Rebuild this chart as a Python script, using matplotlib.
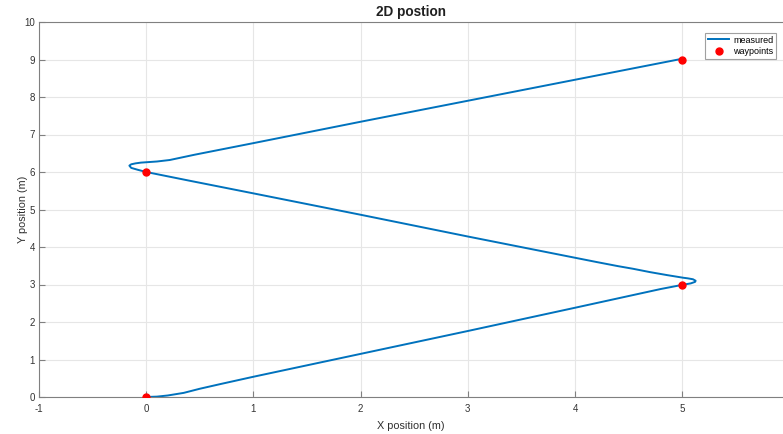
import matplotlib.pyplot as plt

plt.rcParams['font.family'] = ['Liberation Sans', 'DejaVu Sans']
plt.rcParams['axes.unicode_minus'] = False

# measured path
meas_x = [0.0, 0.1, 0.2, 0.35, 0.5, 0.7, 1.0, 2.0, 3.0, 4.0, 4.8, 5.0, 5.08, 5.12,
          5.125, 5.1, 5.05, 5.01, 4.86, 4.70, 4.54, 4.4, 4.2, 3.0, 2.0, 1.0, 0.4,
          0.0, -0.08, -0.14, -0.157, -0.14, -0.1, -0.05, 0.1, 0.22, 0.45, 1.0,
          2.0, 3.0, 4.0, 5.0]
meas_y = [0.0, 0.01, 0.04, 0.11, 0.22, 0.35, 0.54, 1.15, 1.76, 2.38, 2.88, 2.99,
          3.03, 3.07, 3.10, 3.14, 3.165, 3.18, 3.25, 3.33, 3.42, 3.49, 3.6,
          4.28, 4.86, 5.43, 5.77, 6.0, 6.06, 6.11, 6.17, 6.205, 6.23, 6.25,
          6.28, 6.32, 6.46, 6.77, 7.34, 7.90, 8.46, 9.02]

wp_x = [0, 5, 0, 5]
wp_y = [0, 3, 6, 9]

fig = plt.figure(figsize=(7.83, 4.34), dpi=100)
ax = fig.add_axes([39 / 783, 37 / 434, 744 / 783, 375 / 434])

ax.plot(meas_x, meas_y, color='#0072BD', lw=1.4, label='measured')
ax.plot(wp_x, wp_y, 'o', color='red', ms=5, label='waypoints', zorder=3)

ax.set_xlim(-1, 5.94)
ax.set_ylim(0, 10)
ax.set_xticks(range(-1, 6))
ax.set_yticks(range(0, 11))
ax.grid(True, color='#e6e6e6', lw=0.8)
ax.set_axisbelow(True)

for s in ['left', 'bottom', 'top']:
    ax.spines[s].set_color('#808080')
ax.spines['right'].set_visible(False)
ax.tick_params(direction='in', length=4, color='#808080', labelcolor='#333333',
               labelsize=7)
ax.tick_params(axis='x', pad=5)
ax.tick_params(axis='y', pad=3)

ax.set_title('2D postion', fontsize=9.8, fontweight='bold', color='#202020', pad=4)
ax.set_xlabel('X position (m)', fontsize=7.8, color='#303030', labelpad=5)
ax.set_ylabel('Y position (m)', fontsize=7.8, color='#303030')
ax.yaxis.set_label_coords(-0.015, 0.5)

leg = ax.legend(loc='upper right', fontsize=6.5, fancybox=False, framealpha=1,
                edgecolor='#a0a0a0', handlelength=2.4, borderpad=0.3,
                labelspacing=0.3, handletextpad=0.4, borderaxespad=0,
                bbox_to_anchor=(0.9906, 0.971))
leg.get_frame().set_linewidth(0.8)

fig.savefig('out.png', dpi=100)
